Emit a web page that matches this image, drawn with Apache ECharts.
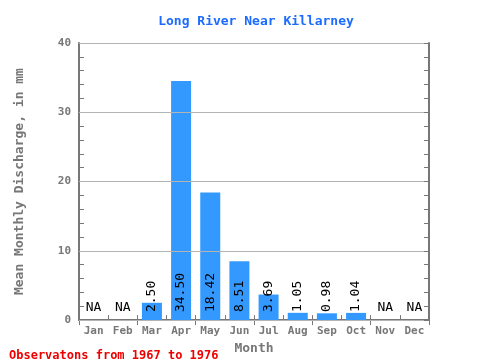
<!DOCTYPE html>
<html><head><meta charset="utf-8">
<script src="https://cdn.jsdelivr.net/npm/echarts@6/dist/echarts.min.js"></script>
<style>html,body{margin:0;padding:0;background:#fff}#c{width:480px;height:360px}</style>
</head><body><div id="c"></div>
<script>
var months = ['Jan','Feb','Mar','Apr','May','Jun','Jul','Aug','Sep','Oct','Nov','Dec'];
var discharge = [null, null, 2.50, 34.50, 18.42, 8.51, 3.69, 1.05, 0.98, 1.04, null, null];
var yTicks = [0, 10, 20, 30, 40];
var titleText = 'Long River Near Killarney';
var footerText = 'Observatons from 1967 to 1976';

var FONT = '"DejaVu Sans Mono", "Liberation Mono", monospace';
var naData = discharge.map(function(v){ return v === null ? 0 : null; });
var chart = echarts.init(document.getElementById('c'), null, {renderer:'canvas'});
var axisCol = '#777777';
var yAxisBase = {
  type:'value', min: yTicks[0], max: yTicks[yTicks.length-1], interval: 10,
  axisLine:{show:true, lineStyle:{color:axisCol, width:2}},
  axisTick:{show:true, inside:true, length:5, lineStyle:{color:axisCol, width:1}},
  minorTick:{show:true, splitNumber:5, length:5, lineStyle:{color:axisCol, width:1}},
  splitLine:{show:false}
};
chart.setOption({
  animation:false,
  backgroundColor:'#ffffff',
  title:[{
    text:titleText, left:251, top:10, textAlign:'center',
    textStyle:{fontFamily:FONT, fontWeight:'bold', fontSize:13, color:'#1a6bff'}
  },{
    text:footerText, left:4, top:345,
    textStyle:{fontFamily:FONT, fontWeight:'bold', fontSize:12, color:'#ee0000'}
  }],
  grid:{left:79, right:51, top:43, bottom:37, containLabel:false},
  xAxis:[{
    type:'category', data:months, position:'bottom',
    name:'Month', nameLocation:'middle', nameGap:20,
    nameTextStyle:{fontFamily:FONT, fontWeight:'bold', fontSize:13, color:'#777777'},
    axisLine:{show:true, lineStyle:{color:axisCol, width:2}},
    axisTick:{show:true, inside:true, length:5, lineStyle:{color:axisCol}},
    axisLabel:{fontFamily:FONT, fontWeight:'bold', fontSize:11, color:'#777777', margin:6},
    splitLine:{show:false}
  },{
    type:'category', data:months, position:'top',
    axisLine:{show:true, lineStyle:{color:axisCol, width:2}},
    axisTick:{show:true, inside:true, length:5, lineStyle:{color:axisCol}},
    axisLabel:{show:false}, splitLine:{show:false}
  }],
  yAxis:[Object.assign({}, yAxisBase, {
    position:'left',
    name:'Mean Monthly Discharge, in mm', nameLocation:'middle', nameGap:53, nameRotate:90,
    nameTextStyle:{fontFamily:FONT, fontWeight:'bold', fontSize:13, color:'#777777'},
    axisLabel:{fontFamily:FONT, fontWeight:'bold', fontSize:11, color:'#777777', margin:8}
  }), Object.assign({}, yAxisBase, {
    position:'right', z:5,
    axisLabel:{show:false},
    splitLine:{show:true, lineStyle:{color:'#b4b4b4', width:1}}
  })],
  series:[{
    type:'bar', data:discharge, barWidth:20, xAxisIndex:0, yAxisIndex:0,
    itemStyle:{color:'#3399ff'},
    label:{
      show:true, position:'insideBottom', rotate:90, align:'left', verticalAlign:'middle',
      distance:8,
      fontFamily:FONT, fontSize:13, color:'#000000',
      formatter:function(p){ return p.value == null ? '' : Number(p.value).toFixed(2); }
    }
  },{
    type:'bar', data:naData, barWidth:20, barGap:'-100%', xAxisIndex:0, yAxisIndex:0,
    itemStyle:{color:'rgba(0,0,0,0)'},
    label:{
      show:true, position:'insideBottom', distance:6,
      fontFamily:FONT, fontSize:13, color:'#000000',
      formatter:function(p){ return p.value == null ? '' : 'NA'; }
    }
  }]
});
</script></body></html>
